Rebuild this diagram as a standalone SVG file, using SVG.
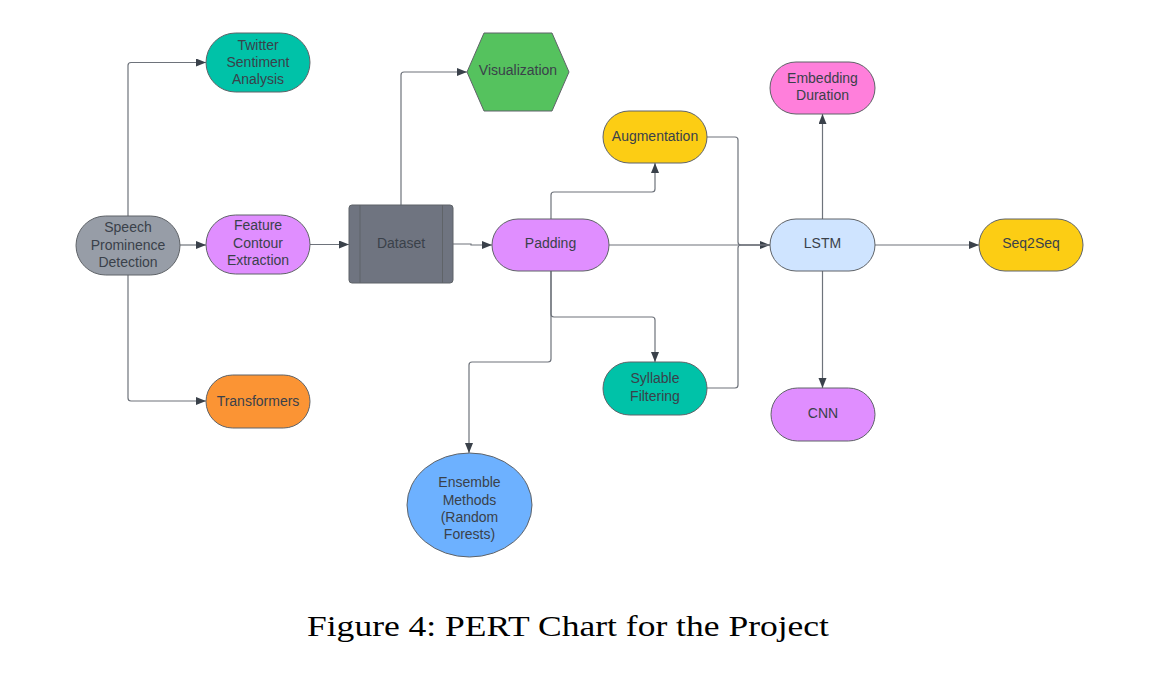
<svg xmlns="http://www.w3.org/2000/svg" width="1157" height="675" viewBox="0 0 1157 675">
<defs>
<marker id="arr" markerUnits="userSpaceOnUse" markerWidth="11" markerHeight="9" refX="10" refY="4" orient="auto">
<path d="M0,0 L10,4 L0,8 z" fill="#3a414a"/>
</marker>
<style>
.n{stroke:#5f6368;stroke-width:1}
.t{font-family:"Liberation Sans",Arial,sans-serif;font-size:14px;fill:#3a414a;text-anchor:middle}
.c{fill:none;stroke:#6e737b;stroke-width:1.2}
.a{marker-end:url(#arr)}
</style>
</defs>
<rect width="1157" height="675" fill="#ffffff"/>
<g id="connectors">
<path class="c a" d="M128,216 V65.5 Q128,62.5 131,62.5 H206"/>
<path class="c a" d="M180,245 H206"/>
<path class="c a" d="M128,275 V398 Q128,401 131,401 H206"/>
<path class="c a" d="M310,244.5 H349"/>
<path class="c a" d="M401,205 V75 Q401,72 404,72 H467"/>
<path class="c a" d="M453,244 H471 V245 H492"/>
<path class="c a" d="M551,219 V195 Q551,192 554,192 H652 Q655,192 655,189 V163"/>
<path class="c a" d="M609,245 H770"/>
<path class="c" d="M707,137 H735 Q738,137 738,140 V242 Q738,245 741,245 H770"/>
<path class="c a" d="M822.5,219 V114"/>
<path class="c a" d="M875,245 H979"/>
<path class="c a" d="M822.5,271 V388"/>
<path class="c a" d="M551,271 V314 Q551,317 554,317 H652 Q655,317 655,320 V362"/>
<path class="c" d="M707,388 H735 Q738,388 738,385 V248 Q738,245 741,245 H770"/>
<path class="c a" d="M551,271 V359 Q551,362 548,362 H472 Q469,362 469,365 V453"/>
</g>
<g id="speech">
<rect class="n" x="76" y="216" width="104" height="59" rx="29.5" fill="#979da7"/>
<text class="t"><tspan x="128" y="232">Speech</tspan><tspan x="128" y="250">Prominence</tspan><tspan x="128" y="267">Detection</tspan></text>
</g>
<g id="twitter">
<rect class="n" x="206" y="33" width="104" height="59" rx="29.5" fill="#00c2a8"/>
<text class="t"><tspan x="258" y="50">Twitter</tspan><tspan x="258" y="67">Sentiment</tspan><tspan x="258" y="84">Analysis</tspan></text>
</g>
<g id="feature">
<rect class="n" x="206" y="215" width="104" height="59" rx="29.5" fill="#e08eff"/>
<text class="t"><tspan x="258" y="230">Feature</tspan><tspan x="258" y="248">Contour</tspan><tspan x="258" y="265">Extraction</tspan></text>
</g>
<g id="transformers">
<rect class="n" x="206" y="375" width="104" height="53" rx="26.5" fill="#fb9434"/>
<text class="t" x="258" y="406">Transformers</text>
</g>
<g id="dataset">
<rect class="n" x="349" y="205" width="104" height="78" rx="3" fill="#6f7480"/>
<line class="n" x1="360" y1="205" x2="360" y2="283"/>
<line class="n" x1="442.5" y1="205" x2="442.5" y2="283"/>
<text class="t" x="401" y="248" fill="#3a414a">Dataset</text>
</g>
<g id="visualization">
<path class="n" d="M467,72 L484,33 H552 L569,72 L552,111 H484 Z" stroke-linejoin="round" fill="#55c25e"/>
<text class="t" x="518" y="75">Visualization</text>
</g>
<g id="padding">
<rect class="n" x="492" y="219" width="117" height="52" rx="26" fill="#e08eff"/>
<text class="t" x="550.5" y="248">Padding</text>
</g>
<g id="augmentation">
<rect class="n" x="603" y="111" width="104" height="52" rx="26" fill="#fccd14"/>
<text class="t" x="655" y="141">Augmentation</text>
</g>
<g id="syllable">
<rect class="n" x="603" y="362" width="104" height="53" rx="26.5" fill="#00c2a8"/>
<text class="t"><tspan x="655" y="383">Syllable</tspan><tspan x="655" y="401">Filtering</tspan></text>
</g>
<g id="ensemble">
<ellipse class="n" cx="469.5" cy="505" rx="62.5" ry="52" fill="#6db1ff"/>
<text class="t"><tspan x="469.5" y="487">Ensemble</tspan><tspan x="469.5" y="505">Methods</tspan><tspan x="469.5" y="522">(Random</tspan><tspan x="469.5" y="539">Forests)</tspan></text>
</g>
<g id="lstm">
<rect class="n" x="770" y="219" width="105" height="52" rx="26" fill="#cfe4ff"/>
<text class="t" x="822.5" y="248">LSTM</text>
</g>
<g id="embedding">
<rect class="n" x="770" y="62" width="105" height="52" rx="26" fill="#ff7fdb"/>
<text class="t"><tspan x="822.5" y="83">Embedding</tspan><tspan x="822.5" y="100">Duration</tspan></text>
</g>
<g id="seq2seq">
<rect class="n" x="979" y="219" width="104" height="52" rx="26" fill="#fccd14"/>
<text class="t" x="1031" y="248">Seq2Seq</text>
</g>
<g id="cnn">
<rect class="n" x="771" y="388" width="104" height="53" rx="26.5" fill="#e08eff"/>
<text class="t" x="823" y="418">CNN</text>
</g>
<text x="307" y="636" font-family="'Liberation Serif','Times New Roman',serif" font-size="29" fill="#000000" textLength="522" lengthAdjust="spacingAndGlyphs">Figure 4: PERT Chart for the Project</text>
</svg>
